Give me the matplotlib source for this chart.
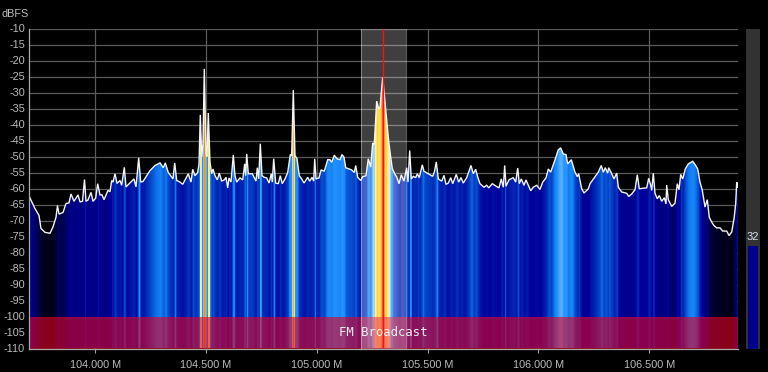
import numpy as np
import matplotlib
matplotlib.use("Agg")
import matplotlib.pyplot as plt
from matplotlib.colors import LinearSegmentedColormap
from matplotlib.patches import Polygon

# (FFT bin index, level in dBFS), one list per stretch of the band
SPECTRUM_LOW = [(0,-62),(1.5,-63),(6.5,-66.3),(10.5,-68.4),(12.5,-72.5),(16.5,-73.7),(21.5,-74),(24.5,-72),(27.5,-69),(29,-65.3),(30.5,-68),(34.5,-67.5),(37.5,-64.7),(40.5,-64.5),(42.5,-61.7),(45.5,-64),(49.5,-62),(51.5,-64.2),(54,-64),(56,-57.2),(57.5,-64),(59.5,-63.6),(62.5,-61.2),(64.5,-64),(67.2,-63),(69.2,-58.5),(71.5,-62),(73.5,-62),(75.5,-63.5),(79.5,-60.6),(81.5,-61),(83.2,-57.5),(84.5,-58),(86.5,-55.4),(88.5,-58.4),(91.5,-57.5),(93.2,-59),(95.8,-53.4),(97.5,-59.5),(105.5,-57),(107.5,-59.5),(110.2,-50.4),(112.2,-58),(114.5,-57.8),(117.2,-56.5),(121.5,-54.4),(126.5,-52.8),(131.5,-52),(134.8,-53.5),(136.8,-52),(139.8,-55),(144.5,-57),(146.2,-52),(148.2,-57.5),(151.5,-58),(154.2,-58.7),(159.8,-55.4),(162.5,-58),(164.2,-54),(166.5,-56),(169.2,-55)]
SPECTRUM_MID = [(170.5,-52.3),(171.8,-37),(173.2,-50.2),(174.5,-46),(175.8,-22.6),(177.5,-49.2),(178.5,-50),(179.8,-36.4),(181.5,-51.8),(183.2,-55.4),(184.5,-53.9),(186.5,-56),(188.8,-57.3),(190.8,-55.2),(193.2,-57.7),(195.8,-57.3),(197.5,-56.5),(199.2,-59.8),(200.5,-56.7),(202.5,-58),(204.8,-49.5),(206.5,-56),(208.2,-58),(211.5,-56.7),(214.2,-57.3),(216.2,-52.3),(217.2,-56),(218.2,-49.2),(219.8,-55.4),(223.8,-55.4),(227.5,-57.7),(228.8,-53.5),(230.2,-57),(231.8,-46),(233.5,-56),(235.8,-56.5),(238.2,-56.7),(240.5,-58.3),(242.8,-55.4),(243.8,-58),(245.2,-50.7),(247.2,-58.3),(249.8,-58.5),(251.8,-56),(253.8,-58.5),(256.5,-57),(259.2,-55),(261.8,-49.4),(263.2,-49.7),(264.8,-29.2),(266.5,-49.7),(268.5,-50.7),(270.8,-56),(273.2,-57),(275.5,-58.3),(279.2,-56.5),(281.2,-57.7),(283.5,-56.5),(285.2,-57.7),(286.2,-50.7),(287.5,-57),(290.5,-56.7),(292.5,-54.2),(295.8,-54.6),(299.2,-51),(301.5,-51),(303.2,-51.8),(305.8,-49.6),(308.5,-50.7),(311.5,-51),(313.5,-49.4),(315.5,-50.2),(317.2,-53.5),(320.5,-53.9),(323.2,-54.2),(325.8,-55),(327.2,-52.8),(329.2,-56.5),(332.2,-57.5),(334.2,-56.3),(337.5,-56)]
SPECTRUM_CARRIER = [(339.8,-50.7),(342.2,-53.3),(344.2,-45.8),(345.8,-46.2),(348.2,-32.7),(350.2,-35.1),(351.5,-34.6),(354.2,-25.2),(356.2,-32),(358.2,-38.7),(360.2,-45.2),(362.2,-50.2),(363.8,-53.8),(366.5,-55.6),(368.2,-56.4),(370.5,-58.5),(372.8,-55.7),(375.5,-57.7),(378.2,-53.5),(379.5,-58),(381.2,-48.1),(382.8,-57),(384.8,-56.2),(387.2,-56.6),(388.8,-55.4),(390.8,-56.6),(393.8,-52.6),(395.5,-54.6),(399.8,-55.4),(404.2,-56.2),(405.8,-54.9),(407.8,-51.7),(409.8,-57),(413.2,-57.7),(415.5,-55.9),(417.5,-58.7),(419.8,-58.3),(422.2,-56.6),(424.2,-58.5),(427.8,-55.6),(430.2,-58),(432.5,-56.6),(434.8,-58.3),(438.2,-56.6),(442.5,-52.8),(444.8,-55.4),(447.2,-54),(449.2,-56.4),(451.5,-58.5),(455.5,-59.6),(458.2,-59),(460.2,-59.8),(463.8,-58.5),(468.2,-59.4),(470.5,-59.8),(472.8,-57),(474.8,-59.6),(476.2,-52.8),(477.5,-59.3),(480.5,-57.3),(484.8,-56.6),(487.2,-58),(489.2,-53.6),(490.8,-58.5),(492.8,-57),(495.5,-59),(497.5,-57.3),(499.8,-59)]
SPECTRUM_HIGH = [(502.2,-60.7),(504.8,-59.6),(508.2,-59),(511.5,-60.3),(514.2,-58),(517.5,-56.7),(519.8,-53.9),(522.2,-54.9),(526.5,-51),(529.8,-47.9),(532.2,-47.3),(534.8,-49.2),(537.5,-49.4),(539.2,-52.3),(542.8,-51),(546.5,-54.9),(548.8,-56.3),(550.2,-55.4),(553.2,-60.1),(555.5,-61.4),(559.8,-60.1),(561.5,-58.5),(566.5,-56.3),(569.8,-54.9),(572.8,-52.8),(574.8,-54.9),(576.8,-53.5),(579.2,-55.2),(580.2,-53.5),(583.2,-55.4),(585.5,-57),(588.2,-55.2),(589.8,-59.6),(593.2,-61.1),(598.2,-61.5),(600.2,-62.5),(603.2,-61.7),(606.5,-60.4),(608.8,-55.7),(610.8,-60.1),(614.8,-59.9),(618.2,-59.8),(620.2,-56.8),(622.2,-59),(623.2,-60.6),(624.8,-55.2),(626.5,-61.5),(628.8,-63.2),(630.8,-62.2),(633.2,-64),(635.8,-62.9),(637.5,-64.8),(638.2,-58.9),(639.8,-63.5),(643.2,-65.6),(646.5,-64.6),(648.8,-58.5),(650.5,-60.4),(652.2,-55.6),(654.2,-57),(656.8,-53.9),(659.8,-52.3),(664.2,-51.5),(666.5,-52.5),(669.2,-53.9),(671.5,-58),(673.8,-60.6),(676.5,-65.8),(678.8,-63.5),(680.8,-69),(683.2,-70.5),(685.5,-71.6),(688.2,-72.3),(691.5,-72.3),(694.2,-73.3),(698.2,-73.3),(700.5,-74.7),(703.2,-73.6),(705.5,-69.5),(707.2,-64.8),(708.2,-58),(709.2,-59.6)]

F_START = 103.6985
BIN_MHZ = 0.004513
N_BINS = 709.5
FREQ_TICKS = [104.0, 104.5, 105.0, 105.5, 106.0, 106.5]
DB_TICKS = list(range(-10, -115, -5))
BAND_LOW, BAND_HIGH, TUNED = 105.2, 105.4, 105.3
BAND_LABEL = "FM Broadcast"
GAIN = 32

LEVEL_STOPS = [-76, -74, -68, -64, -60, -57, -54, -52, -49, -47, -44, -41, -35, -30, -26, -20]
COLOR_STOPS = ["#000014", "#000018", "#00004a", "#000082", "#00009a", "#0022b0", "#0650d2", "#1482f5",
               "#2896ff", "#64b4ff", "#d2e6fa", "#fff064", "#ffdc1e", "#ff8c00", "#ff140a", "#e60000"]

plt.rcParams["font.family"] = ["Liberation Sans", "DejaVu Sans"]
W, H = 768, 372
fig = plt.figure(figsize=(W / 100, H / 100), dpi=100, facecolor="black")
L, R, T, B = 28.5, 738, 28.5, 348.5
ax = fig.add_axes([L / W, 1 - B / H, (R - L) / W, (B - T) / H], facecolor="black")

trace = np.array(SPECTRUM_LOW + SPECTRUM_MID + SPECTRUM_CARRIER + SPECTRUM_HIGH, dtype=float)
freq = F_START + BIN_MHZ * trace[:, 0]
lev = trace[:, 1]
x0, x1 = F_START, F_START + BIN_MHZ * N_BINS
ax.set_xlim(x0, x1)
ax.set_ylim(-110, -10)

ax.set_xticks(FREQ_TICKS, [f"{f:.3f} M" for f in FREQ_TICKS])
ax.set_yticks(DB_TICKS, [str(d) for d in DB_TICKS])
ax.tick_params(axis="x", labelcolor="#bbbbbb", labelsize=7.8, length=3, width=0.8, pad=5, color="#a0a0a0")
ax.tick_params(axis="y", labelcolor="#bbbbbb", labelsize=7.8, length=0, pad=2.5)
ax.grid(True, color="#5a5a5a", lw=0.9, zorder=1)
ax.set_axisbelow(True)
for s in ("top", "right"):
    ax.spines[s].set_visible(False)
for s in ("left", "bottom"):
    ax.spines[s].set_color("#aaaaaa")
    ax.spines[s].set_linewidth(0.9)
    ax.spines[s].set_zorder(8)

# Spectrum fill: column colour follows the level under the trace
cmap = LinearSegmentedColormap.from_list(
    "waterfall",
    [((v - LEVEL_STOPS[0]) / (LEVEL_STOPS[-1] - LEVEL_STOPS[0]), c) for v, c in zip(LEVEL_STOPS, COLOR_STOPS)],
)
cols = np.linspace(x0, x1, int(R - L))
col_lev = np.interp(cols, freq, lev)
im = ax.imshow(col_lev[None, :], extent=(x0, x1, -110, -10), aspect="auto", interpolation="nearest",
               cmap=cmap, vmin=LEVEL_STOPS[0], vmax=LEVEL_STOPS[-1], zorder=2)
poly = Polygon(np.column_stack([np.r_[freq[0], freq, freq[-1]], np.r_[-110, lev, -110]]),
               transform=ax.transData, fc="none", ec="none")
ax.add_patch(poly)
im.set_clip_path(poly)

ax.axhspan(-110, -100, color=(230 / 255, 0, 30 / 255), alpha=0.6, lw=0, zorder=3)
ax.plot(freq, lev, color="#f4f4f4", lw=1.0, zorder=4, solid_joinstyle="miter")

ax.axvspan(BAND_LOW, BAND_HIGH, color="white", alpha=0.25, lw=0, zorder=5)
for f in (BAND_LOW, BAND_HIGH):
    ax.axvline(f, color="white", alpha=0.35, lw=0.8, zorder=5)
ax.axvline(TUNED, color="#ff1010", lw=1.0, zorder=6)
ax.text(TUNED, -105, BAND_LABEL, color="#f0f0f0", ha="center", va="center", fontsize=8.8,
        family="DejaVu Sans Mono", zorder=7)

fig.text(1 / W, 1 - 14 / H, "dBFS", color="#bbbbbb", fontsize=7.8, va="center", ha="left")

# Gain bar
bar = fig.add_axes([746 / W, 1 - B / H, 14 / W, (B - T) / H], facecolor="#323232")
bar.set_xlim(0, 14)
bar.set_ylim(0, 100)
bar.set_xticks([])
bar.set_yticks([])
for s in bar.spines.values():
    s.set_visible(False)
bar.bar(7, GAIN, width=10, color="#00008c")
fig.text(753 / W, 1 - 237 / H, str(GAIN), color="#d8e4f0", fontsize=8, ha="center", va="center")

fig.savefig("out.png", dpi=100, facecolor="black")
